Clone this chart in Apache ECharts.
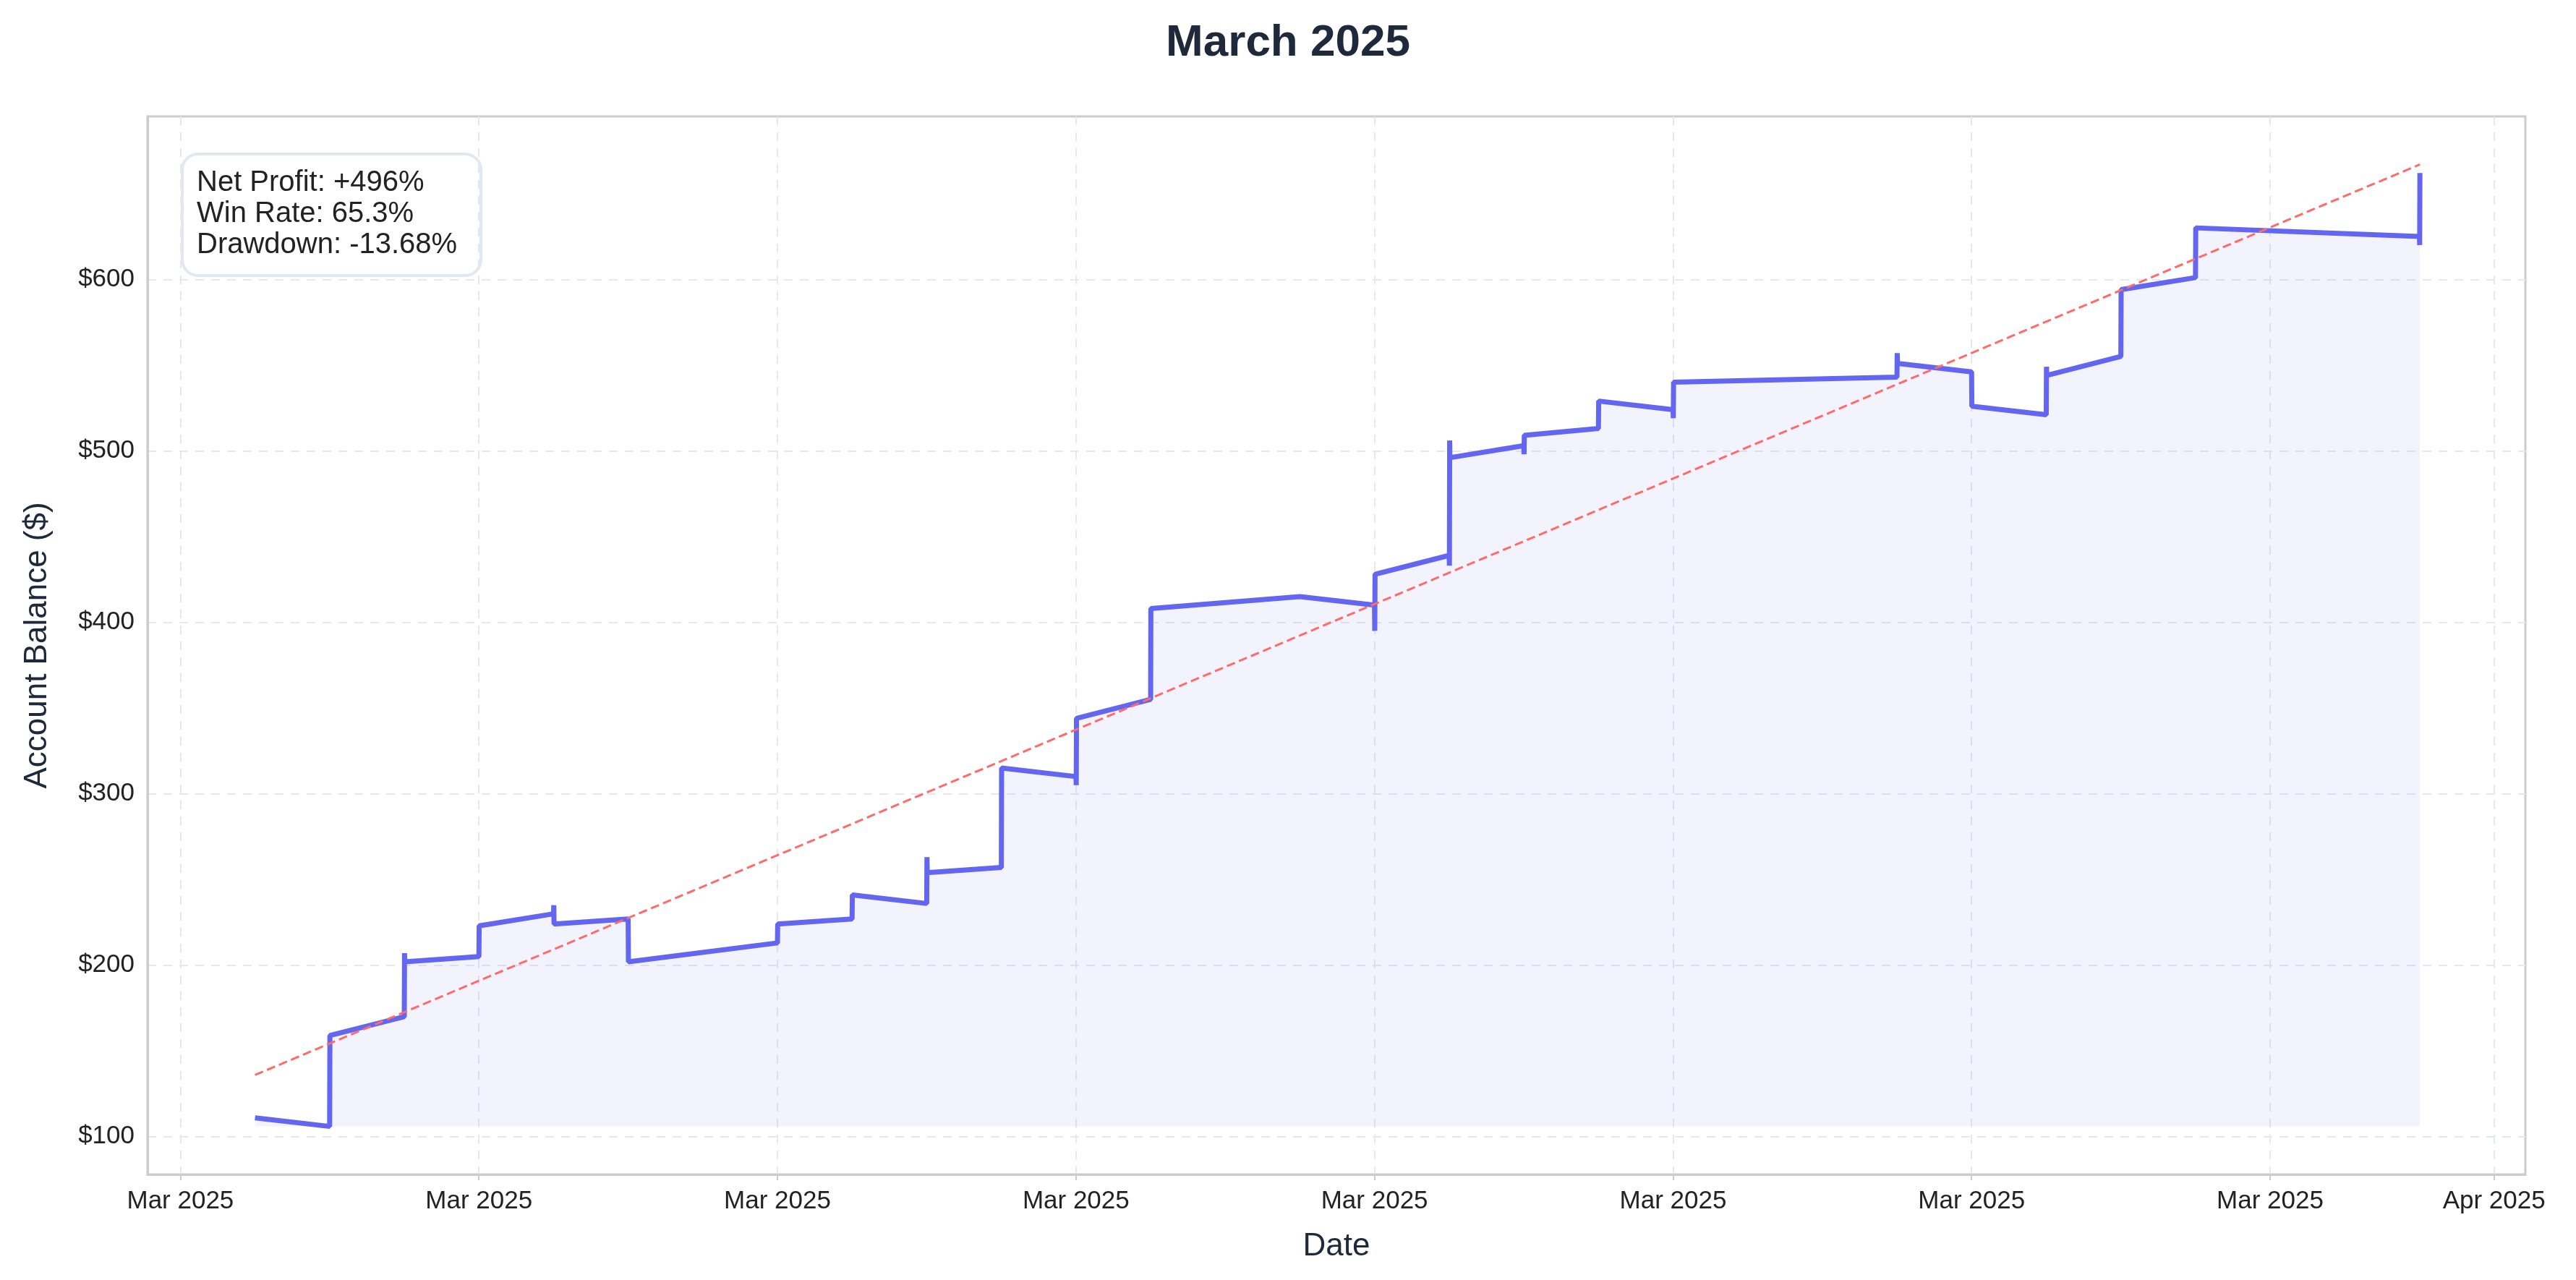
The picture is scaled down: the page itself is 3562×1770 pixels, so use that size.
<!DOCTYPE html>
<html><head><meta charset="utf-8">
<script src="https://cdn.jsdelivr.net/npm/echarts@6/dist/echarts.min.js"></script>
<style>html,body{margin:0;padding:0;background:#fff}#c{width:3562px;height:1770px}</style>
</head><body><div id="c"></div>
<script>
// [day of March, minute offset within day, balance]
const equityPoints = [
  [2,0,111],[3,0,106],[3,5,159],[4,0,170],[4,5,207],[4,10,202],[5,0,205],[5,5,223],
  [6,0,230],[6,5,235],[6,10,224],[7,0,227],[7,5,202],[9,0,213],[9,5,224],[10,0,227],[10,5,241],
  [11,0,236],[11,5,263],[11,10,254],[12,0,257],[12,5,315],[13,0,310],[13,5,305],[13,10,344],
  [14,0,355],[14,5,408],[16,0,415],[17,0,410],[17,5,395],[17,10,428],[18,0,439],[18,5,433],
  [18,10,506],[18,15,496],[19,0,503],[19,5,498],[19,10,509],[20,0,513],[20,5,529],
  [21,0,524],[21,5,519],[21,10,540],[24,0,543],[24,5,557],[24,10,551],[25,0,546],[25,5,526],
  [26,0,521],[26,5,549],[26,10,544],[27,0,555],[27,5,594],[28,0,601],[28,5,630],
  [31,0,625],[31,5,620],[31,10,662]
];
const trendPoints = [[2,0,136],[31,10,667]];
const tickDays = [[2025,2,1],[2025,2,5],[2025,2,9],[2025,2,13],[2025,2,17],[2025,2,21],[2025,2,25],[2025,2,29],[2025,3,1]];
const yTicks = [100,200,300,400,500,600];
const statsLines = ['Net Profit: +496%','Win Rate: 65.3%','Drawdown: -13.68%'];
const titleText = 'March 2025';

const DAY = 86400000;
const ts = (d,m) => Date.UTC(2025,2,d) + m*60000;
const eq = equityPoints.map(p => [ts(p[0],p[1]), p[2]]);
const tr = trendPoints.map(p => [ts(p[0],p[1]), p[2]]);
const ticks = tickDays.map(t => Date.UTC(t[0],t[1],t[2]));
const MON = ['Jan','Feb','Mar','Apr','May','Jun','Jul','Aug','Sep','Oct','Nov','Dec'];
const font = 'Liberation Sans, Arial, sans-serif';

const chart = echarts.init(document.getElementById('c'), null, {renderer:'canvas'});
chart.setOption({
  backgroundColor: '#fff',
  animation: false,
  title: {text: titleText, left: 'center', top: 24,
    textStyle: {fontFamily: font, fontSize: 62, fontWeight: 'bold', color: '#1e293b'}},
  grid: {left: 204, right: 70, top: 161, bottom: 146, containLabel: false,
    show: true, borderColor: '#cccccc', borderWidth: 3},
  xAxis: {
    type: 'value', min: Date.UTC(2025,2,1) - 0.44*DAY, max: Date.UTC(2025,3,1) + 0.42*DAY,
    name: 'Date', nameLocation: 'middle', nameGap: 78,
    nameTextStyle: {fontFamily: font, fontSize: 44, color: '#1e293b'},
    axisLine: {show: true, lineStyle: {color: '#cccccc', width: 3}},
    axisTick: {show: true, customValues: ticks, length: 8, lineStyle: {color: '#cccccc', width: 2}},
    axisLabel: {customValues: ticks, fontFamily: font, fontSize: 35, color: '#222', margin: 20,
      formatter: v => { const d = new Date(v); return MON[d.getUTCMonth()] + ' ' + d.getUTCFullYear(); }},
    splitLine: {show: true, lineStyle: {color: '#e6e8ef', width: 2, type: [12, 10]}}
  },
  yAxis: {
    type: 'value', min: 78, max: 695,
    name: 'Account Balance ($)', nameLocation: 'middle', nameGap: 130, nameRotate: 90,
    nameTextStyle: {fontFamily: font, fontSize: 44, color: '#1e293b'},
    axisLine: {show: true, lineStyle: {color: '#cccccc', width: 3}},
    axisTick: {show: false, customValues: yTicks},
    axisLabel: {customValues: yTicks, fontFamily: font, fontSize: 35, color: '#222', margin: 18,
      formatter: v => '$' + v},
    splitLine: {show: true, lineStyle: {color: '#e6e8ef', width: 2, type: [12, 10]}}
  },
  series: [
    {type: 'line', data: eq, showSymbol: false, symbol: 'none',
      lineStyle: {color: '#6366f1', width: 7},
      areaStyle: {color: 'rgba(99,102,241,0.11)', origin: 106}, z: 3},
    {type: 'line', data: tr, showSymbol: false, symbol: 'none',
      lineStyle: {color: '#ff6b6b', width: 3, type: [12, 6]}, z: 4}
  ],
  graphic: [{
    type: 'group', left: 250, top: 211,
    children: [
      {type: 'rect', shape: {x: 0, y: 0, width: 413, height: 168, r: 22},
        style: {fill: 'rgba(255,255,255,0.9)', stroke: '#e2e8f0', lineWidth: 4}},
      {type: 'text', x: 20, y: 18,
        style: {text: statsLines.join('\n'), font: '40px ' + font, fill: '#222', lineHeight: 43}}
    ]
  }]
});
</script></body></html>
